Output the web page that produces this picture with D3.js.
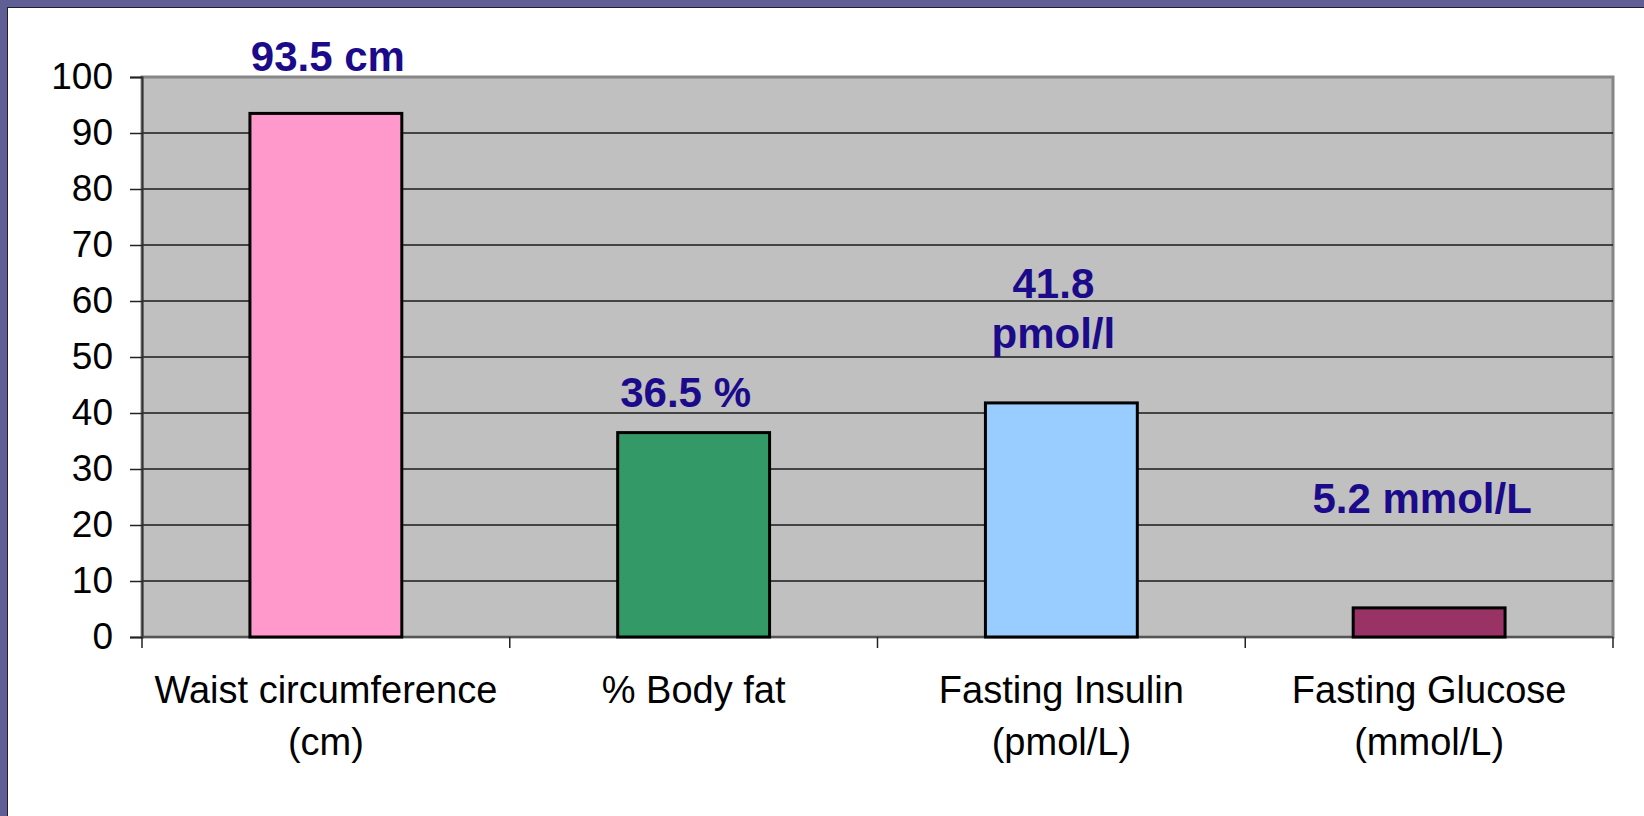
<!DOCTYPE html>
<html>
<head>
<meta charset="utf-8">
<script src="https://cdn.jsdelivr.net/npm/d3@7"></script>
<style>
  html, body { margin: 0; padding: 0; background: #fff; }
  svg { display: block; font-family: "Liberation Sans", Arial, sans-serif; }
</style>
</head>
<body>
<div class="chart"></div>
<script>
// categories (each x label split in lines)
var categories = ['waist', 'fat', 'insulin', 'glucose'];
var catLabels = [
    ['Waist circumference', '(cm)'],
    ['% Body fat'],
    ['Fasting Insulin', '(pmol/L)'],
    ['Fasting Glucose', '(mmol/L)']
];
// bar values
var values = [93.5, 36.5, 41.8, 5.2];
// value label text (lines)
var valueLabels = [
    ['93.5 cm'],
    ['36.5 %'],
    ['41.8', 'pmol/l'],
    ['5.2 mmol/L']
];
var barColors = ['#FF99CC', '#339966', '#99CCFF', '#993366'];
// y axis ticks
var yTicks = [0, 10, 20, 30, 40, 50, 60, 70, 80, 90, 100];

// label placement tweaks (px, relative to bar top / bar centre)
var labelDy = [-42, -26, -55, -95];
var labelDx = [2, -8, -8, -7];

/*-------------------------------------------------------*/
function main(){
    var W = 1644, H = 816;
    var margin = { top: 77, right: 31, bottom: 179, left: 142 };
    var width  = W - margin.left - margin.right;
    var height = H - margin.top - margin.bottom;

    var svg = d3.select('.chart').append('svg')
        .attr('width', W)
        .attr('height', H);

    // slide frame: purple edges on left & top
    svg.append('rect').attr('width', W).attr('height', H).attr('fill', '#5F5F95');
    svg.append('rect').attr('x', 7).attr('y', 7).attr('width', W).attr('height', H).attr('fill', '#1e1e30');
    svg.append('rect').attr('x', 8).attr('y', 8).attr('width', W).attr('height', H).attr('fill', '#ffffff');

    var g = svg.append('g')
        .attr('transform', `translate(${margin.left}, ${margin.top})`);

    // set the ranges
    var x = d3.scaleBand()
        .domain(categories)
        .range([0, width])
        .padding(0);
    var y = d3.scaleLinear()
        .domain([0, 100])
        .range([height, 0]);

    var barW = x.bandwidth() * 0.413;

    // plot area
    g.append('rect')
        .attr('width', width)
        .attr('height', height)
        .attr('fill', '#C0C0C0')
        .attr('stroke', '#868686')
        .attr('stroke-width', 3);

    // gridlines
    g.selectAll('.grid')
        .data(yTicks.filter((t) => { return t > 0 && t < 100; }))
        .enter().append('line')
        .attr('x1', 0)
        .attr('x2', width)
        .attr('y1', (d) => { return y(d); })
        .attr('y2', (d) => { return y(d); })
        .attr('stroke', '#1a1a1a')
        .attr('stroke-width', 1.3);

    // y axis
    var yAxis = g.append('g')
        .call(d3.axisLeft(y).tickValues(yTicks).tickSize(12).tickPadding(17));
    yAxis.select('.domain').attr('stroke', '#333').attr('stroke-width', 2);
    yAxis.selectAll('.tick line').attr('stroke', '#222').attr('stroke-width', 1.5);
    yAxis.selectAll('text')
        .attr('font-size', 37)
        .attr('fill', '#000')
        .attr('font-family', '"Liberation Sans", Arial, sans-serif');

    // x axis line and tick marks at category boundaries
    g.append('line')
        .attr('x1', 0).attr('x2', width)
        .attr('y1', height).attr('y2', height)
        .attr('stroke', '#444').attr('stroke-width', 1.5);
    var bounds = categories.map((c) => { return x(c); }).concat([width]);
    g.selectAll('.xtick')
        .data(bounds)
        .enter().append('line')
        .attr('x1', (d) => { return d; })
        .attr('x2', (d) => { return d; })
        .attr('y1', height)
        .attr('y2', height + 11)
        .attr('stroke', '#222')
        .attr('stroke-width', 1.5);

    // bars
    g.selectAll('.bar')
        .data(values)
        .enter().append('rect')
        .attr('class', 'bar')
        .attr('x', (d, i) => { return x(categories[i]) + (x.bandwidth() - barW) / 2; })
        .attr('width', barW)
        .attr('y', (d) => { return y(d); })
        .attr('height', (d) => { return height - y(d); })
        .attr('fill', (d, i) => { return barColors[i]; })
        .attr('stroke', '#000')
        .attr('stroke-width', 3);

    // value labels
    valueLabels.forEach((lines, i) => {
        var cx = x(categories[i]) + x.bandwidth() / 2 + labelDx[i];
        var base = y(values[i]) + labelDy[i];
        lines.forEach((t, j) => {
            g.append('text')
                .attr('x', cx)
                .attr('y', base - (lines.length - 1 - j) * 50)
                .attr('text-anchor', 'middle')
                .attr('font-size', 42)
                .attr('font-weight', 'bold')
                .attr('fill', '#1b0b8b')
                .text(t);
        });
    });

    // category labels
    catLabels.forEach((lines, i) => {
        var cx = x(categories[i]) + x.bandwidth() / 2;
        lines.forEach((t, j) => {
            g.append('text')
                .attr('x', cx)
                .attr('y', height + 66 + j * 52)
                .attr('text-anchor', 'middle')
                .attr('font-size', 38)
                .attr('fill', '#000')
                .text(t);
        });
    });
}

main();
</script>
</body>
</html>
